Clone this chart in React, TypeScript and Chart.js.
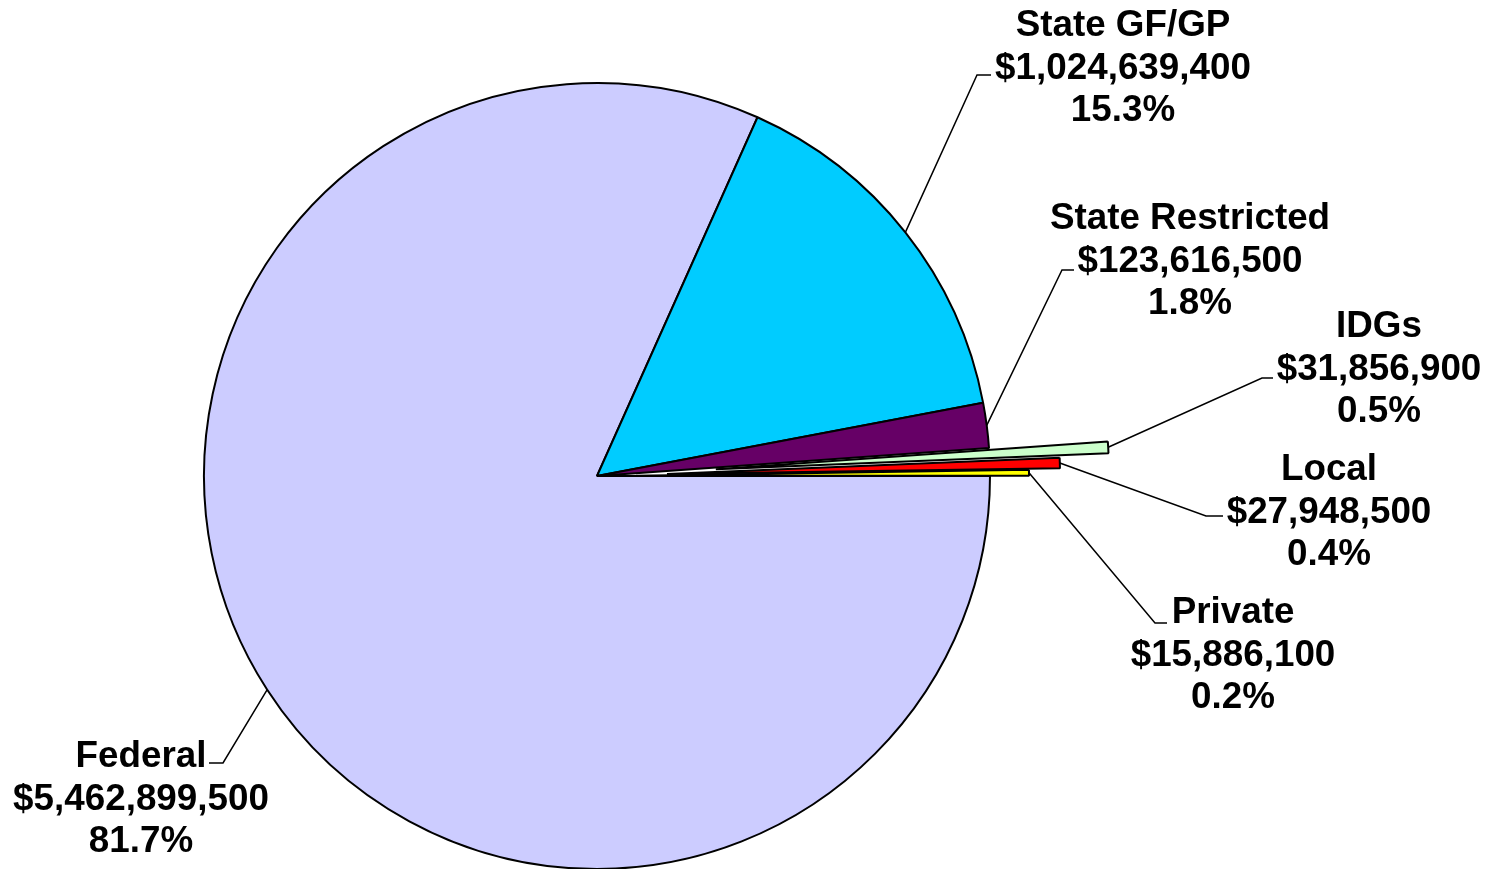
import React, { useEffect, useRef } from "react";
import { Chart, registerables } from "chart.js";

Chart.register(...registerables);

// ---- data ----
const categories = ["Federal", "State GF/GP", "State Restricted", "IDGs", "Local", "Private"];
const amounts = [5462899500, 1024639400, 123616500, 31856900, 27948500, 15886100];
const amountLabels = ["$5,462,899,500", "$1,024,639,400", "$123,616,500", "$31,856,900", "$27,948,500", "$15,886,100"];
const percentLabels = ["81.7%", "15.3%", "1.8%", "0.5%", "0.4%", "0.2%"];

// ---- styles ----
const sliceColors = ["#CCCCFF", "#00CCFF", "#660066", "#CCFFCC", "#FF0000", "#FFFF00"];
// outward shift (px) of exploded slices, Excel style (pure translation)
const sliceExplode = [0, 0, 0, 119, 70, 39];

// ---- label layout (text centre x, first line y, leader elbow, leader end) ----
const labelLayout = [
  { x: 141, y: 757, elbow: [223, 763], end: [209, 763] },
  { x: 1123, y: 26, elbow: [977, 75], end: [991, 75] },
  { x: 1190, y: 219, elbow: [1062, 270], end: [1074, 270] },
  { x: 1379, y: 327, elbow: [1262, 378], end: [1273, 378] },
  { x: 1329, y: 470, elbow: [1206, 516], end: [1223, 516] },
  { x: 1233, y: 613, elbow: [1155, 623], end: [1167, 623] },
];
const LINE_GAP = 42.5;
const FONT = 'bold 36.8px "Liberation Sans", Arial, sans-serif';

const explodePlugin = {
  id: "explodeAndLabels",
  beforeDatasetsDraw(chart: any) {
    const meta = chart.getDatasetMeta(0);
    meta.data.forEach((arc: any, i: number) => {
      const d = sliceExplode[i] || 0;
      if (!d) return;
      const mid = (arc.startAngle + arc.endAngle) / 2;
      arc.$origX = arc.x;
      arc.$origY = arc.y;
      arc.x = arc.x + Math.cos(mid) * d;
      arc.y = arc.y + Math.sin(mid) * d;
    });
  },
  afterDatasetsDraw(chart: any) {
    const ctx = chart.ctx as CanvasRenderingContext2D;
    const meta = chart.getDatasetMeta(0);
    meta.data.forEach((arc: any, i: number) => {
      const mid = (arc.startAngle + arc.endAngle) / 2;
      const r = arc.outerRadius;
      const ax = arc.x + Math.cos(mid) * r;
      const ay = arc.y + Math.sin(mid) * r;
      const L = labelLayout[i];
      ctx.save();
      ctx.strokeStyle = "#000";
      ctx.lineWidth = 1.5;
      ctx.beginPath();
      ctx.moveTo(ax, ay);
      ctx.lineTo(L.elbow[0], L.elbow[1]);
      ctx.lineTo(L.end[0], L.end[1]);
      ctx.stroke();
      ctx.fillStyle = "#000";
      ctx.font = FONT;
      ctx.textAlign = "center";
      ctx.textBaseline = "middle";
      const lines = [categories[i], amountLabels[i], percentLabels[i]];
      lines.forEach((t, k) => ctx.fillText(t, L.x, L.y + k * LINE_GAP));
      ctx.restore();
      if (arc.$origX !== undefined) {
        arc.x = arc.$origX;
        arc.y = arc.$origY;
        delete arc.$origX;
        delete arc.$origY;
      }
    });
  },
};

export default function App() {
  const ref = useRef<HTMLCanvasElement | null>(null);
  useEffect(() => {
    document.body.style.margin = "0";
    if (!ref.current) return;
    const chart = new Chart(ref.current, {
      type: "pie",
      data: {
        labels: categories,
        datasets: [
          {
            data: amounts,
            backgroundColor: sliceColors,
            borderColor: "#000000",
            borderWidth: 2,
            hoverOffset: 0,
            radius: 393,
          } as any,
        ],
      },
      options: {
        responsive: false,
        animation: false,
        devicePixelRatio: 1,
        events: [],
        rotation: 90,
        radius: 393,
        layout: { padding: { left: 204, right: 511, top: 83, bottom: 0 } },
        plugins: {
          legend: { display: false },
          tooltip: { enabled: false },
          title: { display: false },
        },
      } as any,
      plugins: [explodePlugin],
    });
    return () => chart.destroy();
  }, []);
  return (
    <div style={{ position: "absolute", left: 0, top: 0, width: 1501, height: 869, background: "#fff" }}>
      <canvas ref={ref} width={1501} height={869} style={{ display: "block" }} />
    </div>
  );
}
